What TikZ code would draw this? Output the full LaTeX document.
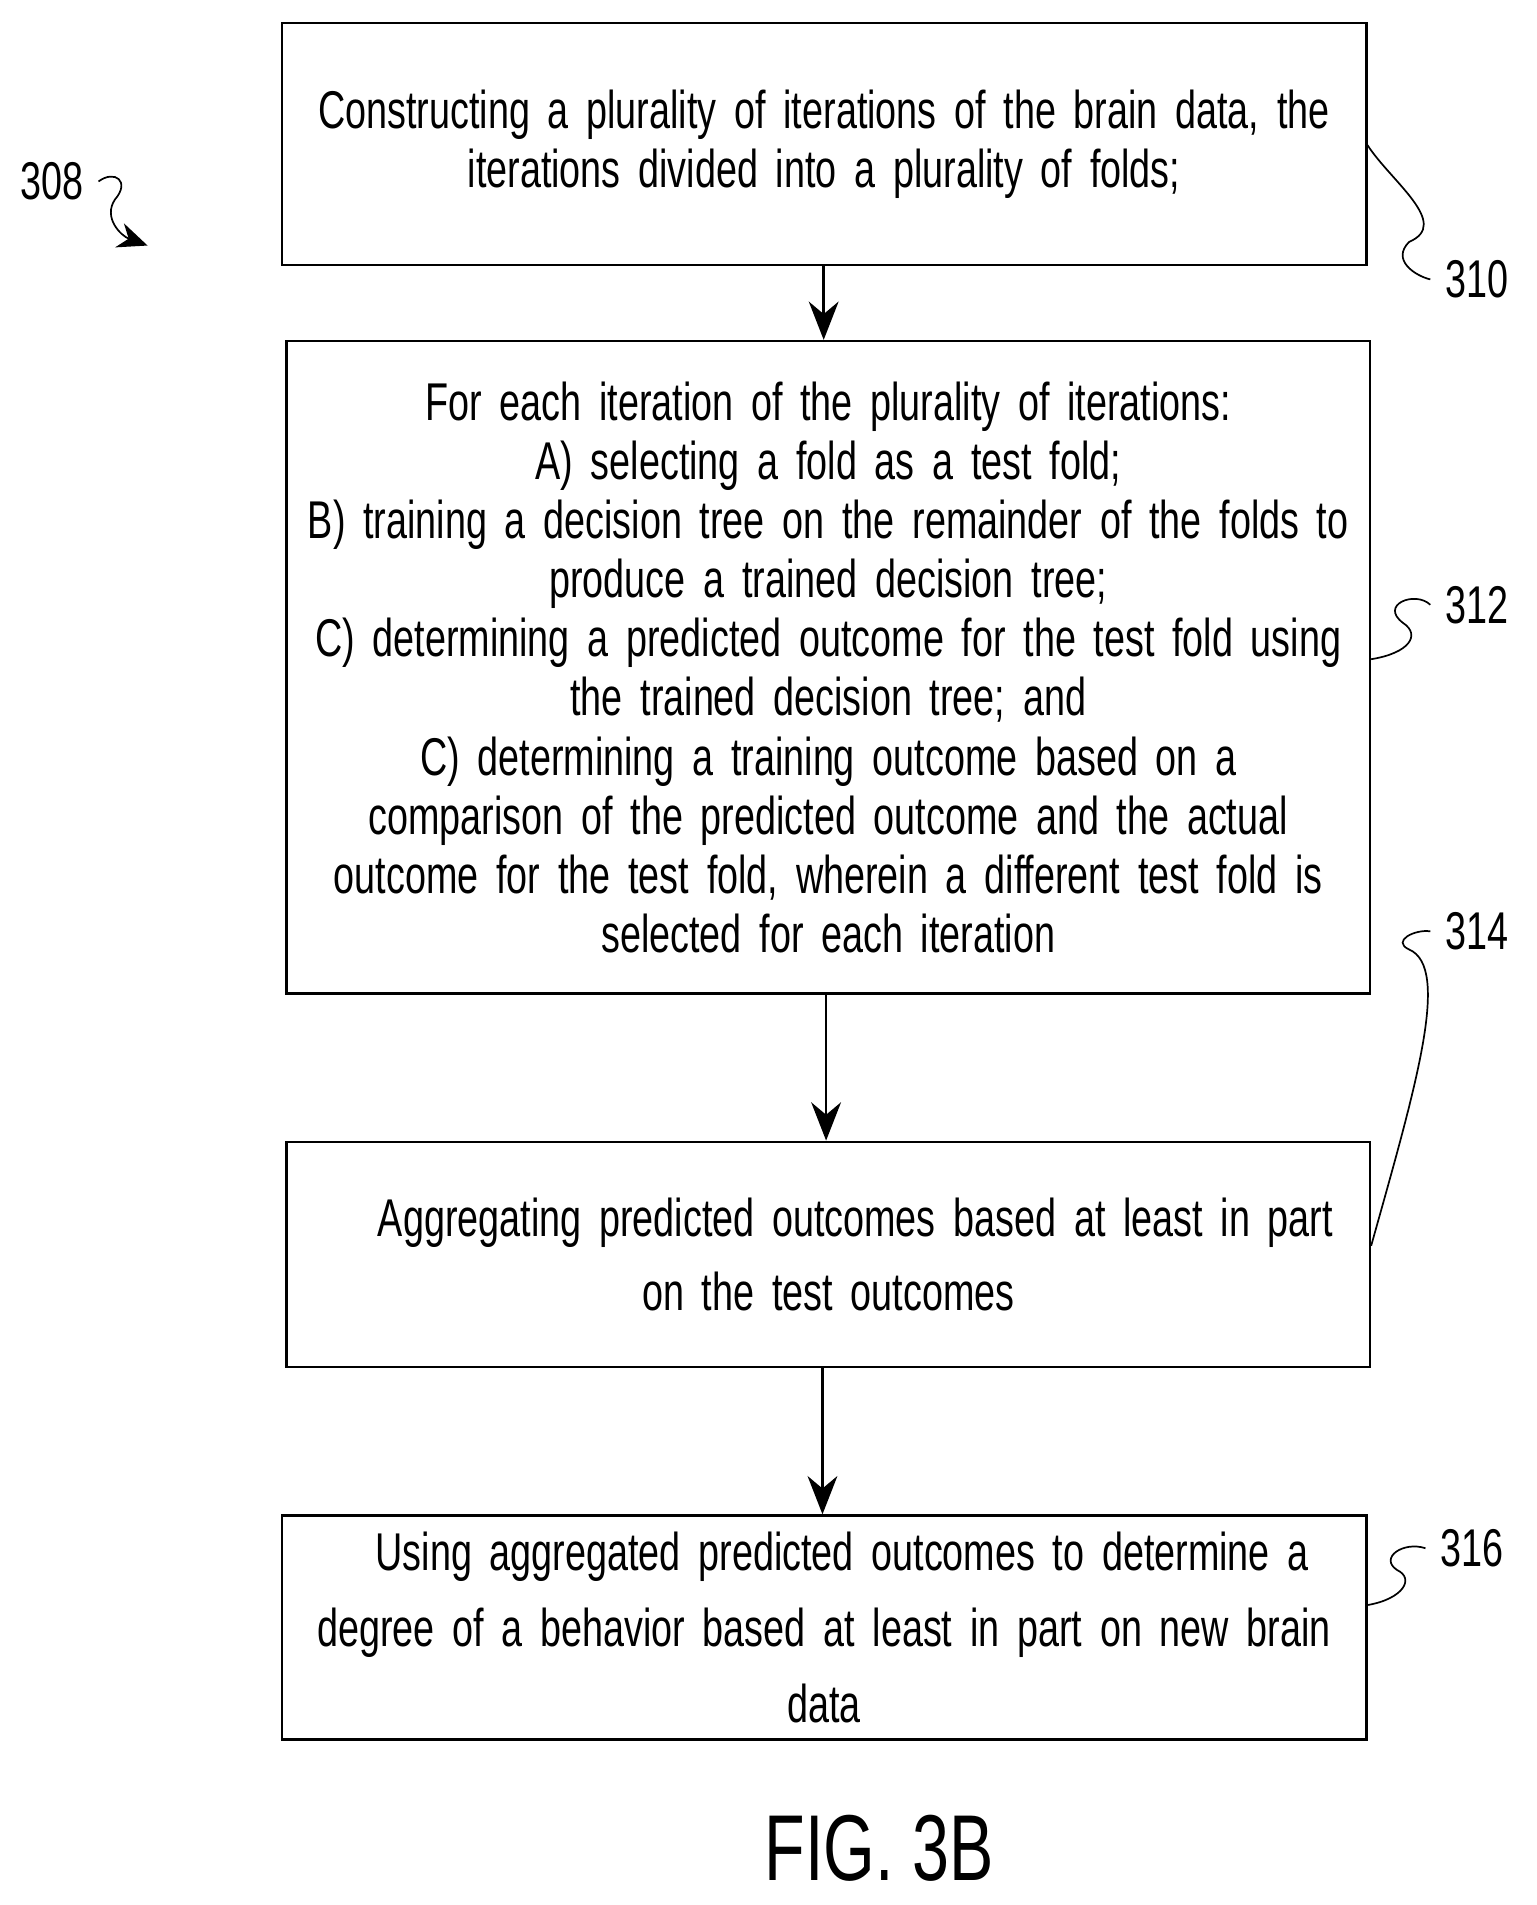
\documentclass[tikz,border=0pt]{standalone}
\usepackage{fontspec}
\setmainfont{Liberation Sans}[FakeStretch=0.71]
\usetikzlibrary{arrows.meta,positioning,calc}
\tikzset{
    line/.style   = {-{Stealth[length=9pt,width=7pt]}, semithick},
    block/.style  = {draw, semithick, anchor=north west, inner sep=0pt,
            align=center, font=\fontsize{12.5}{13.9}\selectfont},
    lead/.style   = {thin},
    tag/.style    = {font=\fontsize{12.5}{14}\selectfont},
}
\begin{document}
\begin{tikzpicture}[x=0.01cm,y=-0.01cm]
    \useasboundingbox (0,0) rectangle (1270,1575);
    % Boxes
    \node[block, minimum width=8.96cm, text width=8.9cm,
          minimum height=2cm] (construct) at (232,18)
        {Constructing a plurality of iterations of the brain data, the\\
         iterations divided into a plurality of folds;};
    \node[block, minimum width=8.95cm, text width=8.9cm, minimum height=5.39cm] (iterate) at (236,281)
        {For each iteration of the plurality of iterations:\\
         A) selecting a fold as a test fold;\\
         B) training a decision tree on the remainder of the folds to\\
         produce a trained decision tree;\\
         C) determining a predicted outcome for the test fold using\\
         the trained decision tree; and\\
         C) determining a training outcome based on a\\
         comparison of the predicted outcome and the actual\\
         outcome for the test fold, wherein a different test fold is\\
         selected for each iteration};
    \node[block, minimum width=8.95cm, text width=8.9cm, minimum height=1.86cm,
          font=\fontsize{12.5}{17.6}\selectfont] (aggregate) at (236,943)
        {\hspace*{0.45cm}Aggregating predicted outcomes based at least in part\\
         on the test outcomes};
    \node[block, minimum width=8.96cm, text width=8.9cm, minimum height=1.85cm,
          font=\fontsize{12.5}{17.9}\selectfont] (apply) at (232,1252)
        {\hspace*{0.3cm}Using aggregated predicted outcomes to determine a\\
         degree of a behavior based at least in part on new brain\\
         data};
    % Arrows
    \draw[line] (construct.south -| 681,0) -- (iterate.north -| 681,0);
    \draw[line] (iterate.south -| 683,0) -- (aggregate.north -| 683,0);
    \draw[line] (aggregate.south -| 680,0) -- (apply.north -| 680,0);
    % Reference numerals
    \node[tag] (n308) at (43,150) {308};
    \node[tag] (n310) at (1221,231) {310};
    \node[tag] (n312) at (1221,500) {312};
    \node[tag] (n314) at (1221,770) {314};
    \node[tag] (n316) at (1217,1280) {316};
    \coordinate (tip308) at (122,203);
    \draw[lead, -{Stealth[length=7pt,width=6pt]}] (n308.east) .. controls (95,140) and (108,150) .. (95,165)
        .. controls (85,180) and (100,195) .. (tip308);
    \draw[lead] (construct.east |- 0,120) .. controls (1150,150) and (1200,185) .. (1165,200)
        .. controls (1150,215) and (1170,228) .. (n310.west);
    \draw[lead] (iterate.east |- 0,545) .. controls (1165,540) and (1175,525) .. (1160,515)
        .. controls (1140,500) and (1170,488) .. (n312.west);
    \draw[lead] (aggregate.east |- 0,1030) .. controls (1170,900) and (1200,800) .. (1165,785)
        .. controls (1150,778) and (1170,768) .. (n314.west);
    \draw[lead] (apply.east |- 0,1327) .. controls (1160,1322) and (1170,1305) .. (1155,1298)
        .. controls (1140,1288) and (1160,1274) .. (n316.west);
    % Figure label
    \node[font=\fontsize{22}{26}\selectfont] (fig) at (727,1528) {FIG. 3B};
\end{tikzpicture}
\end{document}
